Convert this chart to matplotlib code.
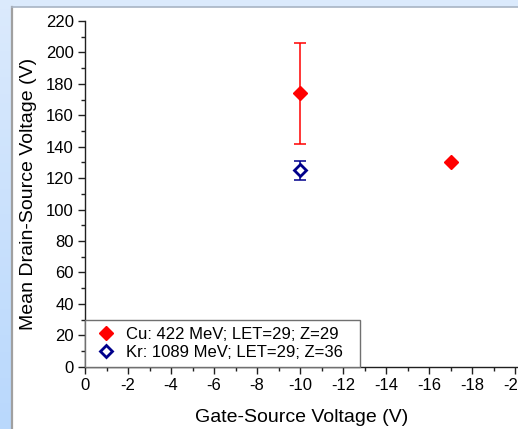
import numpy as np
import matplotlib
matplotlib.use('Agg')
import matplotlib.pyplot as plt
from matplotlib.lines import Line2D
from matplotlib.patches import Rectangle
from matplotlib.ticker import MultipleLocator

plt.rcParams['font.family'] = ['Liberation Sans', 'DejaVu Sans']
plt.rcParams['axes.unicode_minus'] = False

# data
cu_vgs = [-10, -17]
cu_vds = [174, 130]
cu_err = [32, 0]
kr_vgs = [-10]
kr_vds = [125]
kr_err = [6]

cu_label = 'Cu: 422 MeV; LET=29; Z=29'
kr_label = 'Kr: 1089 MeV; LET=29; Z=36'

fig = plt.figure(figsize=(5.18, 4.29), dpi=100)

# light blue backdrop with a white panel, like the slide it came from
bg = fig.add_axes([0, 0, 1, 1], zorder=-10)
grad = np.linspace(0, 1, 50).reshape(-1, 1)
cmap = matplotlib.colors.LinearSegmentedColormap.from_list('bg', ['#dbeafc', '#b9d8fc'])
bg.imshow(grad, aspect='auto', cmap=cmap, extent=[0, 1, 0, 1])
bg.add_patch(Rectangle((12 / 518, 0), 1, 1 - 7 / 429, facecolor='white', edgecolor='none'))
bg.plot([12 / 518, 12 / 518], [0, 1 - 7 / 429], color='#a0a0a0', lw=1.6)
bg.plot([12 / 518, 1], [1 - 7 / 429, 1 - 7 / 429], color='#a8b4c4', lw=1.2)
bg.set_xlim(0, 1)
bg.set_ylim(0, 1)
bg.axis('off')

ax = fig.add_axes([85 / 518, 62.3 / 429, 1 - 85 / 518, 345.7 / 429])
ax.patch.set_alpha(0)

cu_x = np.array(cu_vgs, dtype=float)
cu_y = np.array(cu_vds, dtype=float)
cu_e = np.array(cu_err, dtype=float)
has_err = cu_e > 0
ax.errorbar(cu_x[has_err], cu_y[has_err], yerr=cu_e[has_err], fmt='none',
            ecolor='red', elinewidth=1.1, capsize=4.3, capthick=1.1, zorder=2)
ax.plot(cu_x, cu_y, 'D', color='red', ms=7, mec='red', zorder=3, linestyle='none')

ax.errorbar(kr_vgs, kr_vds, yerr=kr_err, fmt='none', ecolor='#00008b',
            elinewidth=1.1, capsize=4.3, capthick=1.1, zorder=2)
ax.plot(kr_vgs, kr_vds, 'D', color='#00008b', ms=6.2, mfc='white', mec='#00008b',
        mew=2, zorder=3, linestyle='none')

ax.set_xlim(0, -20.13)
ax.set_ylim(0, 220)
ax.xaxis.set_major_locator(MultipleLocator(2))
ax.xaxis.set_minor_locator(MultipleLocator(1))
ax.yaxis.set_major_locator(MultipleLocator(20))
ax.yaxis.set_minor_locator(MultipleLocator(10))

for side in ['top', 'right']:
    ax.spines[side].set_visible(False)
for side in ['left', 'bottom']:
    ax.spines[side].set_color('#202020')
    ax.spines[side].set_linewidth(1)

ax.tick_params(which='major', direction='out', length=5, width=1, labelsize=12,
               color='#202020', pad=3)
ax.tick_params(which='minor', direction='out', length=3, width=1, color='#202020')

ax.set_xlabel('Gate-Source Voltage (V)', fontsize=14)
ax.set_ylabel('Mean Drain-Source Voltage (V)', fontsize=14)
ax.xaxis.set_label_coords(0.5, -0.122)
ax.yaxis.set_label_coords(-0.11, 0.5)

handles = [
    Line2D([], [], marker='D', color='red', ms=7, linestyle='none'),
    Line2D([], [], marker='D', color='#00008b', ms=6.2, mfc='white', mew=2, linestyle='none'),
]
leg = ax.legend(handles, [cu_label, kr_label], loc='lower left', fontsize=12,
                bbox_to_anchor=(0, 0, 275 / 433, 0.1), mode='expand',
                borderaxespad=0, borderpad=0.4, handlelength=1.7, handletextpad=0.36,
                labelspacing=0.2, fancybox=False, framealpha=1, edgecolor='#707070')
leg.get_frame().set_linewidth(1)

fig.savefig('out.png', dpi=100)
